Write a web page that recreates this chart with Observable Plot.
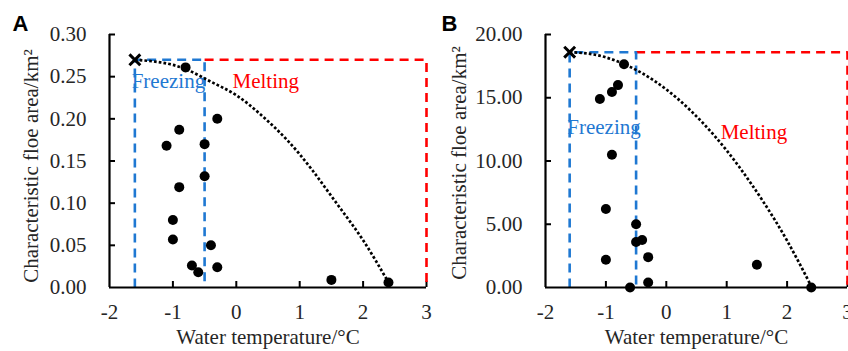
<!DOCTYPE html>
<html><head><meta charset="utf-8">
<script src="https://cdn.jsdelivr.net/npm/d3@7"></script>
<script src="https://cdn.jsdelivr.net/npm/@observablehq/plot@0.6"></script>
<style>
html,body{margin:0;padding:0;background:#fff;overflow:hidden;}
#wrap{position:relative;width:848px;height:351px;overflow:hidden;background:#fff;}
#wrap svg{position:absolute;top:0;}
#wrap svg text{font-family:"Liberation Serif","Times New Roman","DejaVu Serif",serif;font-size:21px;}
#wrap svg text.letter, #wrap svg .letter text{font-family:"Liberation Sans",Arial,sans-serif;font-weight:bold;font-size:22px;}
</style></head><body><div id="wrap"></div>
<script>
// ---- data ----
const xTicks = [-2, -1, 0, 1, 2, 3];
const yTicksA = [0, 0.05, 0.10, 0.15, 0.20, 0.25, 0.30];
const yTicksB = [0, 5, 10, 15, 20];

const tempA = [-0.8, -0.3, -0.9, -1.1, -0.5, -0.5, -0.9, -1.0, -1.0, -0.4, -0.7, -0.6, -0.3, 1.5, 2.4];
const areaA = [0.261, 0.200, 0.187, 0.168, 0.170, 0.132, 0.119, 0.080, 0.057, 0.050, 0.026, 0.018, 0.024, 0.009, 0.006];

const tempB = [-0.7, -0.8, -0.9, -1.1, -0.9, -1.0, -0.5, -0.5, -0.4, -1.0, -0.3, -0.3, -0.6, 1.5, 2.4];
const areaB = [17.65, 16.0, 15.45, 14.9, 10.5, 6.2, 5.0, 3.6, 3.75, 2.2, 2.4, 0.4, 0.0, 1.8, 0.0];

const curveTemp = [-1.6, -1.2, -0.8, -0.4, 0, 0.4, 0.8, 1.2, 1.6, 2.0, 2.4];
const curveA = [0.270, 0.267, 0.259, 0.244, 0.228, 0.204, 0.175, 0.139, 0.098, 0.056, 0.006];
const curveB = [18.6, 18.42, 17.86, 16.94, 15.66, 14.0, 11.98, 9.58, 6.82, 3.7, 0.1];

const minTemp = -2, maxTemp = 3, peakTemp = -1.6, splitTemp = -0.5;
const peakA = 0.27, peakB = 18.6;
const maxA = 0.30, maxB = 20;

const zoneNames = ["Freezing", "Melting"];
const zoneTempA = [-1.65, -0.06], zoneAreaA = [0.236, 0.236];
const zoneTempB = [-1.64, 0.9], zoneAreaB = [12.1, 11.7];

const xTitle = "Water temperature/°C";
const yTitle = "Characteristic floe area/km²";

// ---- drawing ----
const BLUE = "#1f78d2", RED = "#ff0000", INK = "#262626";
function panel({letter, temp, area, curve, peak, yMax, yTicks, zTemp, zArea, width, plotWidth, letterDx, titleDx, titleDy}) {
  const M = {l: 109, r: width - 109 - plotWidth, t: 34, b: 64};
  const plotH = 351 - M.t - M.b;
  const plotW = plotWidth;
  const pts = temp.map((t, i) => ({t, a: area[i]}));
  const crv = curveTemp.map((t, i) => ({t, a: curve[i]}));
  const blue = [{t: peakTemp, a: 0}, {t: peakTemp, a: peak}, {t: splitTemp, a: peak}, {t: splitTemp, a: 0}];
  const red = [{t: splitTemp, a: peak}, {t: maxTemp, a: peak}, {t: maxTemp, a: 0}];
  const fmt = d3.format(".2f");
  return Plot.plot({
    width, height: 351,
    marginLeft: M.l, marginRight: M.r, marginTop: M.t, marginBottom: M.b,
    style: {color: "#000", background: "transparent", overflow: "visible", maxWidth: "none"},
    x: {domain: [minTemp, maxTemp]},
    y: {domain: [0, yMax]},
    marks: [
      Plot.axisX(xTicks, {tickSize: 0, tickPadding: 17, label: null, fill: INK, tickFormat: d => d < 0 ? "-" + Math.abs(d) : String(d)}),
      Plot.axisY(yTicks, {tickSize: 0, tickPadding: 23, label: null, fill: INK, tickFormat: fmt}),
      Plot.tickX(xTicks.slice(1), {x: d => d, insetTop: plotH - 6, strokeWidth: 2}),
      Plot.tickY(yTicks.slice(1), {y: d => d, insetRight: plotW - 6, strokeWidth: 2}),
      Plot.line(red, {x: "t", y: "a", stroke: RED, strokeWidth: 2.6, strokeDasharray: "9,6", strokeLinecap: "butt", strokeLinejoin: "miter"}),
      Plot.line(blue, {x: "t", y: "a", stroke: BLUE, strokeWidth: 2.6, strokeDasharray: "9,6", strokeLinecap: "butt", strokeLinejoin: "miter"}),
      Plot.ruleY([0], {strokeWidth: 2.2}),
      Plot.ruleX([minTemp], {y1: 0, y2: yMax, strokeWidth: 2.2}),
      Plot.line(crv, {x: "t", y: "a", curve: "natural", strokeWidth: 2.7, strokeDasharray: "2.7,2.1", strokeLinecap: "butt"}),
      Plot.dot(pts, {x: "t", y: "a", r: 5, fill: "#000"}),
      Plot.dot([{t: peakTemp, a: peak}], {x: "t", y: "a", symbol: "times", r: 5, stroke: "#000", strokeWidth: 3}),
      Plot.text([0], {x: () => zTemp[0], y: () => zArea[0], text: () => zoneNames[0], fill: BLUE, textAnchor: "start", lineAnchor: "bottom"}),
      Plot.text([1], {x: () => zTemp[1], y: () => zArea[1], text: () => zoneNames[1], fill: RED, textAnchor: "start", lineAnchor: "bottom"}),
      Plot.text([xTitle], {text: d => d, frameAnchor: "bottom", textAnchor: "middle", lineAnchor: "bottom", dy: 56, fill: INK}),
      Plot.text([yTitle], {text: d => d, frameAnchor: "left", textAnchor: "middle", rotate: -90, lineAnchor: "bottom", dx: titleDx, dy: titleDy, fill: INK}),
      Plot.text([letter], {text: d => d, frameAnchor: "top-left", textAnchor: "start", lineAnchor: "bottom", dx: letterDx, dy: -4, className: "letter"})
    ]
  });
}

const wrap = document.getElementById("wrap");
const a = panel({letter: "A", temp: tempA, area: areaA, curve: curveA, peak: peakA, yMax: maxA, yTicks: yTicksA,
  zTemp: zoneTempA, zArea: zoneAreaA, width: 440, plotWidth: 317, letterDx: -97, titleDx: -72, titleDy: 5});
a.style.left = "0px";
const b = panel({letter: "B", temp: tempB, area: areaB, curve: curveB, peak: peakB, yMax: maxB, yTicks: yTicksB,
  zTemp: zoneTempB, zArea: zoneAreaB, width: 425, plotWidth: 302, letterDx: -104, titleDx: -80, titleDy: 2});
b.style.left = "436px";
wrap.appendChild(a);
wrap.appendChild(b);
</script></body></html>
